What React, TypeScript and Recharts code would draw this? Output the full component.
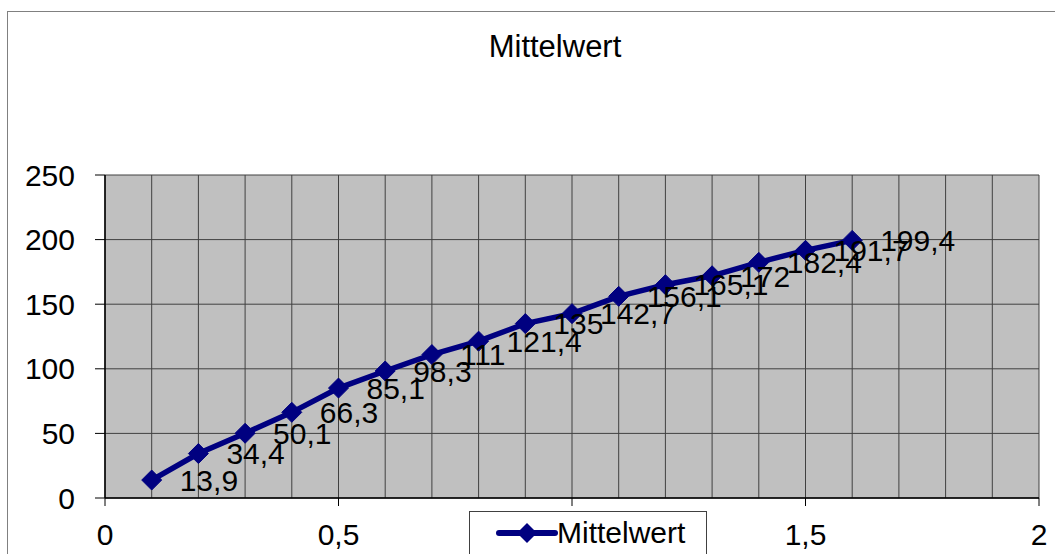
import React from "react";
import { LineChart, Line, XAxis, YAxis, CartesianGrid, LabelList } from "recharts";

// x positions of the measured points
const xValues = [0.1, 0.2, 0.3, 0.4, 0.5, 0.6, 0.7, 0.8, 0.9, 1.0, 1.1, 1.2, 1.3, 1.4, 1.5, 1.6];
// Mittelwert series
const meanValues = [13.9, 34.4, 50.1, 66.3, 85.1, 98.3, 111, 121.4, 135, 142.7, 156.1, 165.1, 172, 182.4, 191.7, 199.4];

const xTicks = [0, 0.5, 1, 1.5, 2];
const yTicks = [0, 50, 100, 150, 200, 250];
const xGridLines = [0, 0.1, 0.2, 0.3, 0.4, 0.5, 0.6, 0.7, 0.8, 0.9, 1, 1.1, 1.2, 1.3, 1.4, 1.5, 1.6, 1.7, 1.8, 1.9, 2];

const data = xValues.map((x, i) => ({ x, mittelwert: meanValues[i] }));

const NAVY = "#000080";
const FONT = "'Liberation Sans', Arial, sans-serif";

const fmt = (v: number | string) => String(v).replace(".", ",");

const Diamond = (props: any) => {
  const { cx, cy } = props;
  if (cx == null || cy == null) return null;
  const r = 10;
  return (
    <polygon
      points={`${cx},${cy - r} ${cx + r},${cy} ${cx},${cy + r} ${cx - r},${cy}`}
      fill={NAVY}
      stroke={NAVY}
    />
  );
};

const PointLabel = (p: any) => {
  const x = p.x ?? p.viewBox?.x;
  const y = p.y ?? p.viewBox?.y;
  if (x == null || y == null) return null;
  return (
    <text x={x + 28} y={y} dy="0.36em" fontSize={30} fill="#000" fontFamily={FONT}>
      {fmt(p.value)}
    </text>
  );
};

export default function App() {
  return (
    <div
      style={{
        position: "absolute",
        left: 0,
        top: 0,
        width: 1055,
        height: 554,
        overflow: "hidden",
        background: "#fff",
        fontFamily: FONT,
      }}
    >
      <div
        style={{
          position: "absolute",
          left: 7,
          top: 11,
          width: 1120,
          height: 620,
          border: "1px solid #808080",
        }}
      />
      <div
        style={{
          position: "absolute",
          left: 555,
          top: 31,
          transform: "translateX(-50%)",
          fontSize: 31,
          lineHeight: "31px",
          whiteSpace: "nowrap",
          color: "#000",
        }}
      >
        Mittelwert
      </div>

      <div style={{ position: "absolute", left: 0, top: 0 }}>
        <LineChart width={1055} height={554} data={data} margin={{ top: 175, right: 16, bottom: 0, left: 0 }}>
          <CartesianGrid
            verticalValues={xGridLines}
            fill="#C0C0C0"
            fillOpacity={1}
            stroke="#404040"
            strokeWidth={1}
          />
          <XAxis
            dataKey="x"
            type="number"
            domain={[0, 2]}
            ticks={xTicks}
            interval={0}
            tickFormatter={fmt}
            height={56}
            tickSize={8}
            tickMargin={18}
            axisLine={{ stroke: "#000", strokeWidth: 1.5 }}
            tickLine={{ stroke: "#000" }}
            tick={{ fontSize: 30, fill: "#000", fontFamily: FONT }}
          />
          <YAxis
            type="number"
            domain={[0, 250]}
            ticks={yTicks}
            interval={0}
            width={105}
            tickSize={10}
            tickMargin={20}
            axisLine={{ stroke: "#000", strokeWidth: 1.5 }}
            tickLine={{ stroke: "#000" }}
            tick={{ fontSize: 30, fill: "#000", fontFamily: FONT }}
          />
          <Line
            dataKey="mittelwert"
            type="linear"
            stroke={NAVY}
            strokeWidth={5.5}
            dot={<Diamond />}
            activeDot={false}
            isAnimationActive={false}
          >
            <LabelList dataKey="mittelwert" content={<PointLabel />} />
          </Line>
        </LineChart>
      </div>

      <div
        style={{
          position: "absolute",
          left: 469,
          top: 511,
          width: 236,
          height: 70,
          border: "1px solid #404040",
          background: "#fff",
        }}
      >
        <svg width={62} height={30} style={{ position: "absolute", left: 26, top: 6 }}>
          <line x1={3} y1={15} x2={59} y2={15} stroke={NAVY} strokeWidth={6} strokeLinecap="round" />
          <polygon points="31,5 41,15 31,25 21,15" fill={NAVY} />
        </svg>
        <div
          style={{
            position: "absolute",
            left: 87,
            top: 6,
            fontSize: 30,
            lineHeight: "30px",
            whiteSpace: "nowrap",
            color: "#000",
          }}
        >
          Mittelwert
        </div>
      </div>
    </div>
  );
}
